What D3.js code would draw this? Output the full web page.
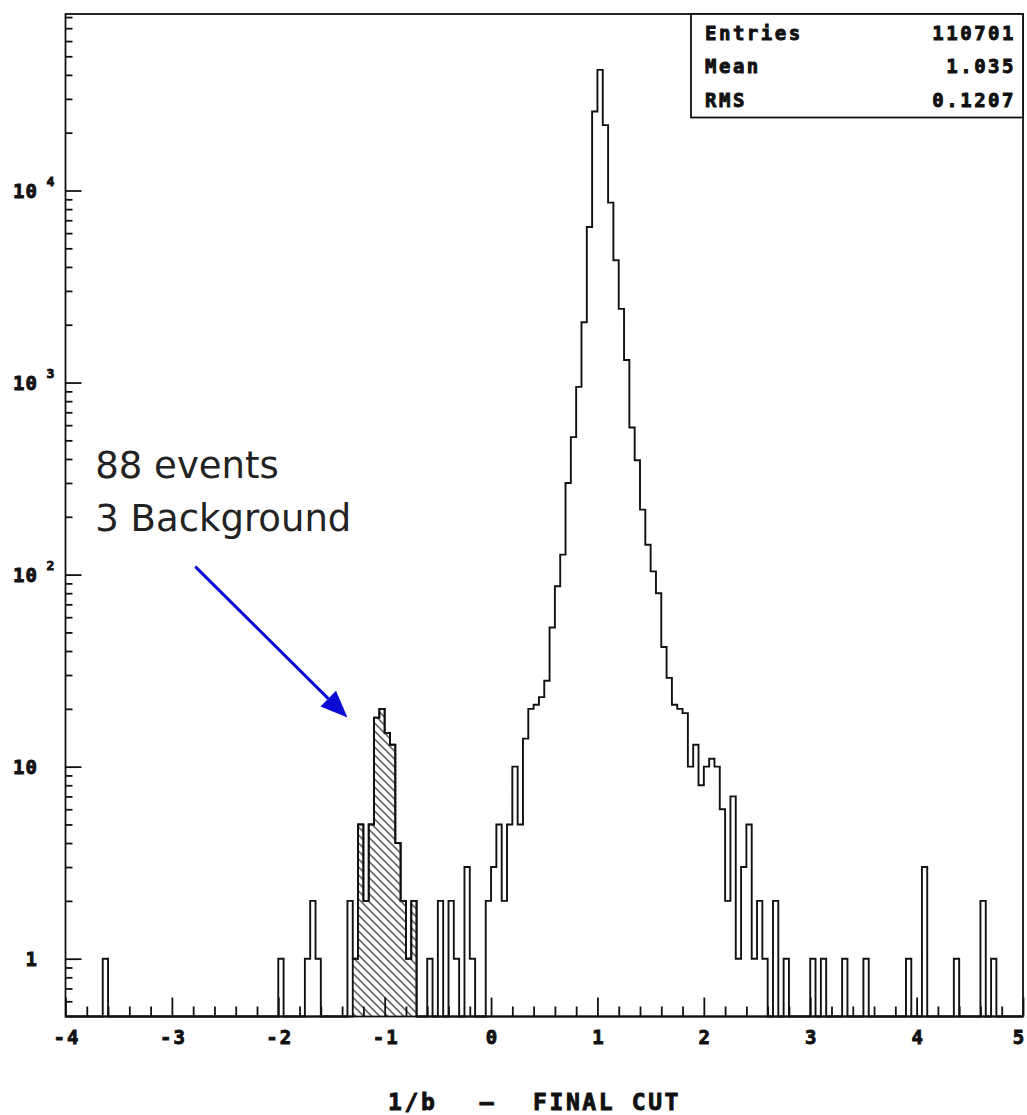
<!DOCTYPE html>
<meta charset="utf-8">
<style>
  body { margin: 0; background: #fff; }
  .pix { font-family: "DejaVu Sans Mono", monospace; font-weight: bold; fill: #111; stroke: #111; stroke-width: 0.9px; }
  .axis .domain { display: none; }
  .axis line { stroke: #111; stroke-width: 1.8; }
</style>
<body>
  <div id="chart"></div>

  <script src="https://d3js.org/d3.v7.min.js"></script>
  <script>
    // bins are 0.05 wide between -4 and 5, only the filled ones are listed: [low edge, entries]
    var allBins = [
      [-3.65, 1], [-2.0, 1], [-1.75, 1], [-1.7, 2], [-1.65, 1],
      [-1.35, 2], [-1.3, 1], [-1.25, 5], [-1.2, 2], [-1.15, 5], [-1.1, 18], [-1.05, 20],
      [-1.0, 15], [-0.95, 13], [-0.9, 4], [-0.85, 2], [-0.8, 1], [-0.75, 2],
      [-0.6, 1], [-0.5, 2], [-0.4, 2], [-0.35, 1], [-0.25, 3], [-0.2, 1], [-0.05, 2],
      [0.0, 3], [0.05, 5], [0.1, 2], [0.15, 5], [0.2, 10], [0.25, 5], [0.3, 14], [0.35, 20],
      [0.4, 21], [0.45, 23], [0.5, 28], [0.55, 53], [0.6, 87], [0.65, 127], [0.7, 300],
      [0.75, 520], [0.8, 950], [0.85, 2060], [0.9, 6460], [0.95, 25800], [1.0, 42500],
      [1.05, 21900], [1.1, 8650], [1.15, 4330], [1.2, 2420], [1.25, 1310], [1.3, 583],
      [1.35, 394], [1.4, 218], [1.45, 143], [1.5, 104], [1.55, 80], [1.6, 42], [1.65, 29],
      [1.7, 21], [1.75, 20], [1.8, 19], [1.85, 10], [1.9, 13], [1.95, 8], [2.0, 10],
      [2.05, 11], [2.1, 10], [2.15, 6], [2.2, 2], [2.25, 7], [2.3, 1], [2.35, 3], [2.4, 5],
      [2.45, 1], [2.5, 2], [2.55, 1], [2.65, 2], [2.75, 1], [3.0, 1], [3.1, 1], [3.3, 1],
      [3.5, 1], [3.9, 1], [4.05, 3], [4.35, 1], [4.6, 2], [4.7, 1]
    ];

    // hatched part (the 88 events)
    var cutBins = [
      [-1.3, 1], [-1.25, 5], [-1.2, 2], [-1.15, 5], [-1.1, 18], [-1.05, 20],
      [-1.0, 15], [-0.95, 13], [-0.9, 4], [-0.85, 2], [-0.8, 1], [-0.75, 2]
    ];

    var xMajor = [-4, -3, -2, -1, 0, 1, 2, 3, 4, 5];
    var xLabels = ["-4", "-3", "-2", "-1", "0", "1", "2", "3", "4", "5"];
    var yDecades = [1, 10, 100, 1000, 10000];
    var yMantissa = ["1", "10", "10", "10", "10"];
    var yPower = ["", "", "2", "3", "4"];

    var statNames = ["Entries", "Mean", "RMS"];
    var statValues = ["110701", "1.035", "0.1207"];
    var noteLines = ["88 events", "3 Background"];
    var titleParts = ["1/b", "\u2013", "FINAL CUT"];

    var xMin = -4, xMax = 5, nBins = 180, bw = (xMax - xMin) / nBins;

    var margin = { top: 14, right: 4, bottom: 98.5, left: 65.5 };
    var W = 1027, H = 1115;
    var width = W - margin.left - margin.right;
    var height = H - margin.top - margin.bottom;

    var svg = d3.select("#chart").append("svg")
      .attr("width", W)
      .attr("height", H);

    var defs = svg.append("defs");
    defs.append("pattern")
      .attr("id", "hatch")
      .attr("patternUnits", "userSpaceOnUse")
      .attr("width", 8)
      .attr("height", 8)
      .append("path")
      .attr("d", "M0,0L8,8M-1,7L1,9M7,-1L9,1")
      .style("stroke", "#111")
      .style("stroke-width", 1.1);

    var g = svg.append("g")
      .attr("transform", "translate(" + margin.left + "," + margin.top + ")");

    var x = d3.scaleLinear().domain([xMin, xMax]).range([0, width]);
    var y = d3.scaleLog().domain([0.5, 83000]).range([height, 0]);

    function toCounts(pairs) {
      var c = new Array(nBins).fill(0);
      pairs.forEach(function (p) {
        c[Math.round((p[0] - xMin) / bw)] = p[1];
      });
      return c;
    }

    function stepPath(counts) {
      var p = d3.path();
      p.moveTo(x(xMin), height);
      counts.forEach(function (v, i) {
        var yy = v > 0 ? y(v) : height;
        p.lineTo(x(xMin + i * bw), yy);
        p.lineTo(x(xMin + (i + 1) * bw), yy);
      });
      p.lineTo(x(xMax), height);
      return p.toString();
    }

    // ticks, drawn inward
    var xMinor = d3.range(-3.8, 5, 0.2).filter(function (d) {
      return Math.abs(d - Math.round(d)) > 1e-6;
    });
    g.append("g").attr("class", "axis")
      .attr("transform", "translate(0," + height + ")")
      .call(d3.axisBottom(x).tickValues(xMinor).tickSize(-10).tickFormat(""));
    var xAxisG = g.append("g").attr("class", "axis")
      .attr("transform", "translate(0," + height + ")")
      .call(d3.axisBottom(x).tickValues(xMajor).tickSize(-19).tickPadding(14)
        .tickFormat(function (d, i) { return xLabels[i]; }));
    xAxisG.selectAll("text")
      .attr("class", "pix")
      .style("font-size", "19px")
      .style("letter-spacing", "2px")
      .attr("dx", function (d, i) { return i === xMajor.length - 1 ? -4 : 1; });

    var yMinor = [];
    [-1, 0, 1, 2, 3, 4].forEach(function (k) {
      d3.range(2, 10).forEach(function (m) {
        var v = m * Math.pow(10, k);
        if (v > 0.5 && v < 83000) yMinor.push(v);
      });
    });
    g.append("g").attr("class", "axis")
      .call(d3.axisLeft(y).tickValues(yMinor).tickSize(-7).tickFormat(""));
    g.append("g").attr("class", "axis")
      .call(d3.axisLeft(y).tickValues(yDecades).tickSize(-16).tickFormat(""));

    var yLab = svg.append("g").attr("class", "pix");
    yDecades.forEach(function (d, i) {
      var ty = margin.top + y(d);
      yLab.append("text")
        .attr("x", 38)
        .attr("y", ty + 7)
        .attr("text-anchor", "end")
        .style("font-size", "19px")
        .style("letter-spacing", "1px")
        .text(yMantissa[i]);
      if (yPower[i]) {
        yLab.append("text")
          .attr("x", 46.5)
          .attr("y", ty - 4.5)
          .style("font-size", "13px")
          .text(yPower[i]);
      }
    });

    // histograms
    var allCounts = toCounts(allBins);
    var cutCounts = toCounts(cutBins);

    g.append("path")
      .attr("d", stepPath(cutCounts))
      .style("fill", "url(#hatch)")
      .style("stroke", "#111")
      .style("stroke-width", 1.8);

    g.append("path")
      .attr("d", stepPath(allCounts))
      .style("fill", "none")
      .style("stroke", "#111")
      .style("stroke-width", 1.9)
      .style("stroke-linejoin", "miter");

    // frame
    g.append("rect")
      .attr("width", width)
      .attr("height", height)
      .style("fill", "none")
      .style("stroke", "#111")
      .style("stroke-width", 1.8);

    // stats box
    var box = svg.append("g").attr("transform", "translate(691,14)");
    box.append("rect")
      .attr("width", W - margin.right - 691)
      .attr("height", 103.5)
      .style("fill", "#fff")
      .style("stroke", "#111")
      .style("stroke-width", 1.8);
    var rowY = d3.scalePoint().domain(statNames).range([25.5, 92.5]);
    statNames.forEach(function (s, i) {
      box.append("text").attr("class", "pix")
        .attr("x", 14)
        .attr("y", rowY(s))
        .style("font-size", "19px")
        .style("letter-spacing", "2.5px")
        .text(s);
      box.append("text").attr("class", "pix")
        .attr("x", 325)
        .attr("y", rowY(s))
        .attr("text-anchor", "end")
        .style("font-size", "19px")
        .style("letter-spacing", "2.5px")
        .text(statValues[i]);
    });

    // note with arrow
    var note = g.append("g");
    note.selectAll("text")
      .data(noteLines)
      .enter()
      .append("text")
      .attr("x", x(-3.72))
      .attr("y", function (d, i) { return 464 + i * 53; })
      .style("font-family", "'DejaVu Sans', sans-serif")
      .style("font-size", "37px")
      .style("fill", "#222")
      .text(function (d) { return d; });

    var a0 = [x(-2.78), y(110)], a1 = [x(-1.35), y(18)];
    var ang = Math.atan2(a1[1] - a0[1], a1[0] - a0[0]);
    var headL = 27, headW = 11;
    var base = [a1[0] - headL * Math.cos(ang), a1[1] - headL * Math.sin(ang)];
    note.append("line")
      .attr("x1", a0[0]).attr("y1", a0[1])
      .attr("x2", base[0]).attr("y2", base[1])
      .style("stroke", "#0a0ad2")
      .style("stroke-width", 3);
    note.append("path")
      .attr("d", "M" + a1 + "L" + [base[0] - headW * Math.sin(ang), base[1] + headW * Math.cos(ang)] +
        "L" + [base[0] + headW * Math.sin(ang), base[1] - headW * Math.cos(ang)] + "Z")
      .style("fill", "#0a0ad2");

    // x title
    var title = svg.append("g").attr("class", "pix")
      .style("font-size", "23px")
      .style("letter-spacing", "2.6px");
    title.append("text").attr("x", 388).attr("y", 1110).text(titleParts[0]);
    title.append("text").attr("x", 488).attr("y", 1110).attr("text-anchor", "middle").text(titleParts[1]);
    title.append("text").attr("x", 533).attr("y", 1110).text(titleParts[2]);
  </script>
</body>
